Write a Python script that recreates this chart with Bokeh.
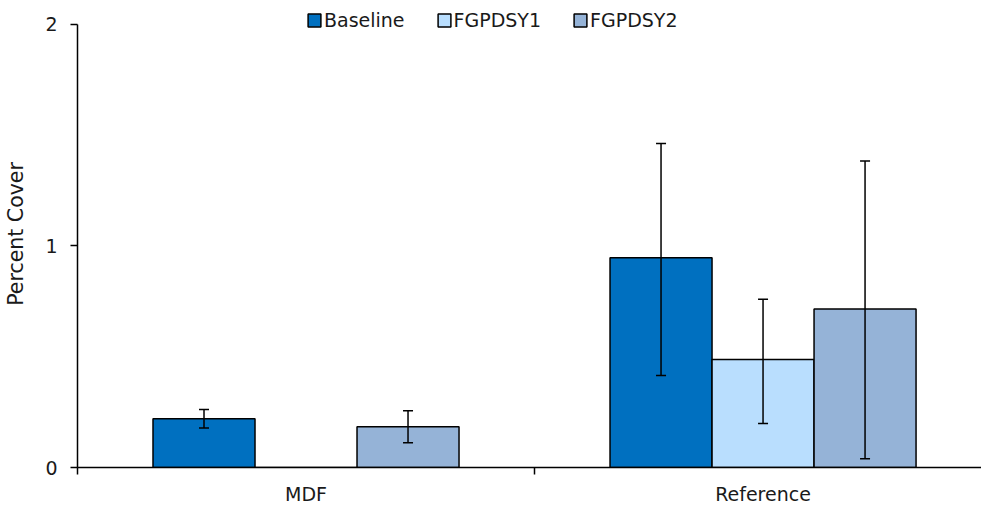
import numpy as np
from bokeh.plotting import figure
from bokeh.models import (ColumnDataSource, Range1d, FixedTicker, Whisker, TeeHead,
                          Legend, LegendItem)
from bokeh.embed import file_html
from bokeh.resources import INLINE

# ---- data ----
categories = ["MDF", "Reference"]
series = ["Baseline", "FGPDSY1", "FGPDSY2"]
baseline = [0.22, 0.947]
fgpdsy1 = [0.0, 0.487]
fgpdsy2 = [0.184, 0.716]
baseline_lo = [0.178, 0.415]
baseline_hi = [0.262, 1.462]
fgpdsy1_lo = [np.nan, 0.199]
fgpdsy1_hi = [np.nan, 0.760]
fgpdsy2_lo = [0.112, 0.040]
fgpdsy2_hi = [0.256, 1.384]
y_ticks = [0, 1, 2]

colors = ["#0070C0", "#B9DEFE", "#95B3D7"]
FONT = "DejaVu Sans"
FS = "19px"
TXT = "#1a1a1a"

p = figure(width=981, height=507, output_backend="svg", toolbar_location=None,
           x_range=Range1d(0, 1.978), y_range=Range1d(0, 2.108),
           min_border_left=77, min_border_right=0, min_border_top=0,
           min_border_bottom=38)
p.outline_line_color = None
p.grid.visible = False
p.background_fill_color = "white"

centres = np.arange(len(categories)) + 0.5
bw = 0.2232
offsets = [-bw, 0.0, bw]
vals = [baseline, fgpdsy1, fgpdsy2]
los = [baseline_lo, fgpdsy1_lo, fgpdsy2_lo]
his = [baseline_hi, fgpdsy1_hi, fgpdsy2_hi]

items = []
for name, v, lo, hi, off, c in zip(series, vals, los, his, offsets, colors):
    xs = centres + off
    src = ColumnDataSource(dict(x=xs, top=v))
    r = p.vbar(x="x", top="top", bottom=0, width=bw, source=src,
               fill_color=c, line_color="black", line_width=1.5)
    items.append(LegendItem(label=name, renderers=[r]))
    lo_a = np.array(lo, dtype=float)
    hi_a = np.array(hi, dtype=float)
    m = ~np.isnan(lo_a)
    esrc = ColumnDataSource(dict(x=xs[m], lower=lo_a[m], upper=hi_a[m]))
    w = Whisker(base="x", lower="lower", upper="upper", source=esrc,
                level="overlay", line_color="black", line_width=1.5,
                upper_head=TeeHead(size=10, line_width=1.5, line_color="black"),
                lower_head=TeeHead(size=10, line_width=1.5, line_color="black"))
    p.add_layout(w)

legend = Legend(items=items, orientation="horizontal", location=(229, 436),
                glyph_width=16, glyph_height=16, label_standoff=2, spacing=31,
                padding=2, margin=0, border_line_color=None,
                background_fill_alpha=0,
                label_text_font=FONT, label_text_font_size=FS,
                label_text_color=TXT)
p.add_layout(legend, "center")

# y axis
ya = p.yaxis[0]
ya.ticker = FixedTicker(ticks=y_ticks)
ya.bounds = (0, 2)
ya.axis_line_width = 1.5
ya.axis_line_color = "black"
ya.major_tick_out = 7
ya.major_tick_in = 0
ya.major_tick_line_width = 1.5
ya.minor_tick_line_color = None
ya.major_label_standoff = 13
ya.major_label_text_font = FONT
ya.major_label_text_font_size = FS
ya.major_label_text_color = TXT
ya.axis_label = "Percent Cover"
ya.axis_label_text_font = FONT
ya.axis_label_text_font_size = "20.5px"
ya.axis_label_text_font_style = "normal"
ya.axis_label_text_color = TXT
ya.axis_label_standoff = 14

# x axis
xa = p.xaxis[0]
xa.ticker = FixedTicker(ticks=list(centres), minor_ticks=[0, 1, 2])
xa.major_label_overrides = {float(c): lab for c, lab in zip(centres, categories)}
xa.axis_line_width = 1.5
xa.axis_line_color = "black"
xa.major_tick_line_color = None
xa.major_tick_out = 0
xa.major_tick_in = 0
xa.minor_tick_out = 7
xa.minor_tick_in = 0
xa.minor_tick_line_width = 1.5
xa.minor_tick_line_color = "black"
xa.major_label_standoff = 8
xa.major_label_text_font = FONT
xa.major_label_text_font_size = FS
xa.major_label_text_color = TXT

open("out.html", "w").write(file_html(p, INLINE))
